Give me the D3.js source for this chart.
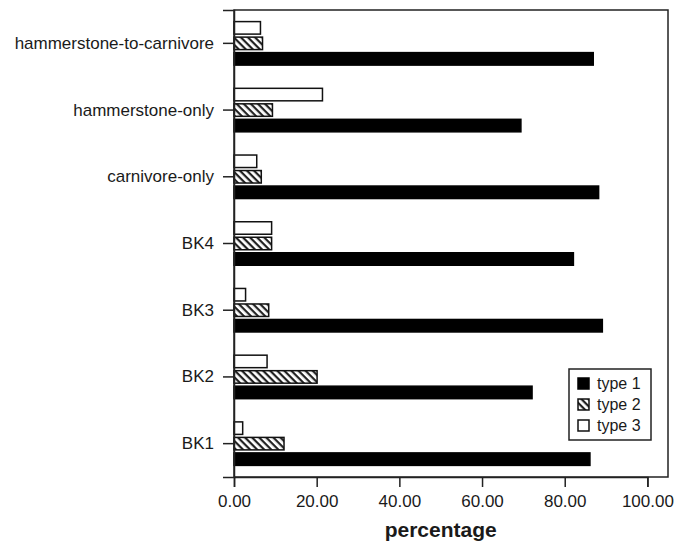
<!DOCTYPE html>
<html><head><meta charset="utf-8">
<script src="https://cdn.jsdelivr.net/npm/d3@7"></script>
<style>body{margin:0;background:#fff}svg{display:block}text{font-family:"Liberation Sans",Arial,sans-serif;fill:#1a1a1a}</style>
</head><body><svg id="c" width="679" height="546"></svg>
<script>
const categories = ["hammerstone-to-carnivore","hammerstone-only","carnivore-only","BK4","BK3","BK2","BK1"];
const type1 = [86.9, 69.4, 88.2, 82.1, 89.1, 72.1, 86.1];
const type2 = [6.9, 9.3, 6.6, 9.1, 8.4, 20.1, 12.1];
const type3 = [6.4, 21.4, 5.5, 9.1, 2.8, 8.0, 2.1];
const seriesNames = ["type 1","type 2","type 3"];
const xTicks = [0,20,40,60,80,100];

const svg = d3.select("#c");
const L=234, R=668, T=10, B=477;
const x = d3.scaleLinear().domain([0,100]).range([L, L+413.4]);
const y = d3.scaleBand().domain(categories).range([T,B]);
const sub = d3.scaleBand().domain(["type 3","type 2","type 1"]).range([0,43.5]).paddingInner(0.194);

const defs = svg.append("defs");
const pat = defs.append("pattern").attr("id","hatch").attr("patternUnits","userSpaceOnUse")
  .attr("width",5).attr("height",5).attr("patternTransform","rotate(45)");
pat.append("rect").attr("width",5).attr("height",5).attr("fill","#fff");
pat.append("rect").attr("x",0).attr("y",0).attr("width",5).attr("height",2.2).attr("fill","#222");

const styles = {
  "type 1": {fill:"#000", stroke:"#000"},
  "type 2": {fill:"url(#hatch)", stroke:"#111"},
  "type 3": {fill:"#fff", stroke:"#111"}
};
const data = [];
categories.forEach((c,i)=>{
  data.push({cat:c, s:"type 1", v:type1[i]});
  data.push({cat:c, s:"type 2", v:type2[i]});
  data.push({cat:c, s:"type 3", v:type3[i]});
});

svg.append("g").selectAll("rect").data(data).join("rect")
  .attr("x", x(0))
  .attr("y", d => y(d.cat) + y.bandwidth()/2 - 21.75 + sub(d.s))
  .attr("width", d => x(d.v)-x(0))
  .attr("height", sub.bandwidth())
  .attr("fill", d=>styles[d.s].fill)
  .attr("stroke", d=>styles[d.s].stroke)
  .attr("stroke-width",1.5);

// frame
svg.append("rect").attr("x",L).attr("y",T).attr("width",R-L).attr("height",B-T)
  .attr("fill","none").attr("stroke","#222").attr("stroke-width",1.5);

// x axis
const xa = svg.append("g").attr("transform",`translate(0,${B})`)
  .call(d3.axisBottom(x).tickValues(xTicks).tickFormat(d3.format(".2f")).tickSize(10).tickPadding(8));
xa.select(".domain").attr("stroke","#222").attr("stroke-width",1.5);
xa.selectAll(".tick line").attr("stroke","#222").attr("stroke-width",1.5);
xa.selectAll("text").style("font-size","17px").attr("fill","#1a1a1a");

// y axis
const ya = svg.append("g").attr("transform",`translate(${L},0)`)
  .call(d3.axisLeft(y).tickSize(11).tickPadding(9));
ya.select(".domain").attr("stroke","#222").attr("stroke-width",1.5);
ya.selectAll(".tick line").attr("stroke","#222").attr("stroke-width",1.5);
ya.selectAll("text").style("font-size","17px").attr("fill","#1a1a1a");

svg.append("text").attr("x",(x(0)+x(100))/2).attr("y",537).attr("text-anchor","middle")
  .style("font-size","21px").style("font-weight","bold").text("percentage");

// legend
const lg = svg.append("g");
lg.append("rect").attr("x",569).attr("y",369).attr("width",82).attr("height",71)
  .attr("fill","#fff").attr("stroke","#222").attr("stroke-width",1.5);
seriesNames.forEach((s,i)=>{
  const yy = 378 + i*21;
  lg.append("rect").attr("x",578).attr("y",yy).attr("width",11).attr("height",11)
    .attr("fill",styles[s].fill).attr("stroke",styles[s].stroke).attr("stroke-width",1.5);
  lg.append("text").attr("x",597).attr("y",yy+11).style("font-size","16px").text(s);
});
</script></body></html>
